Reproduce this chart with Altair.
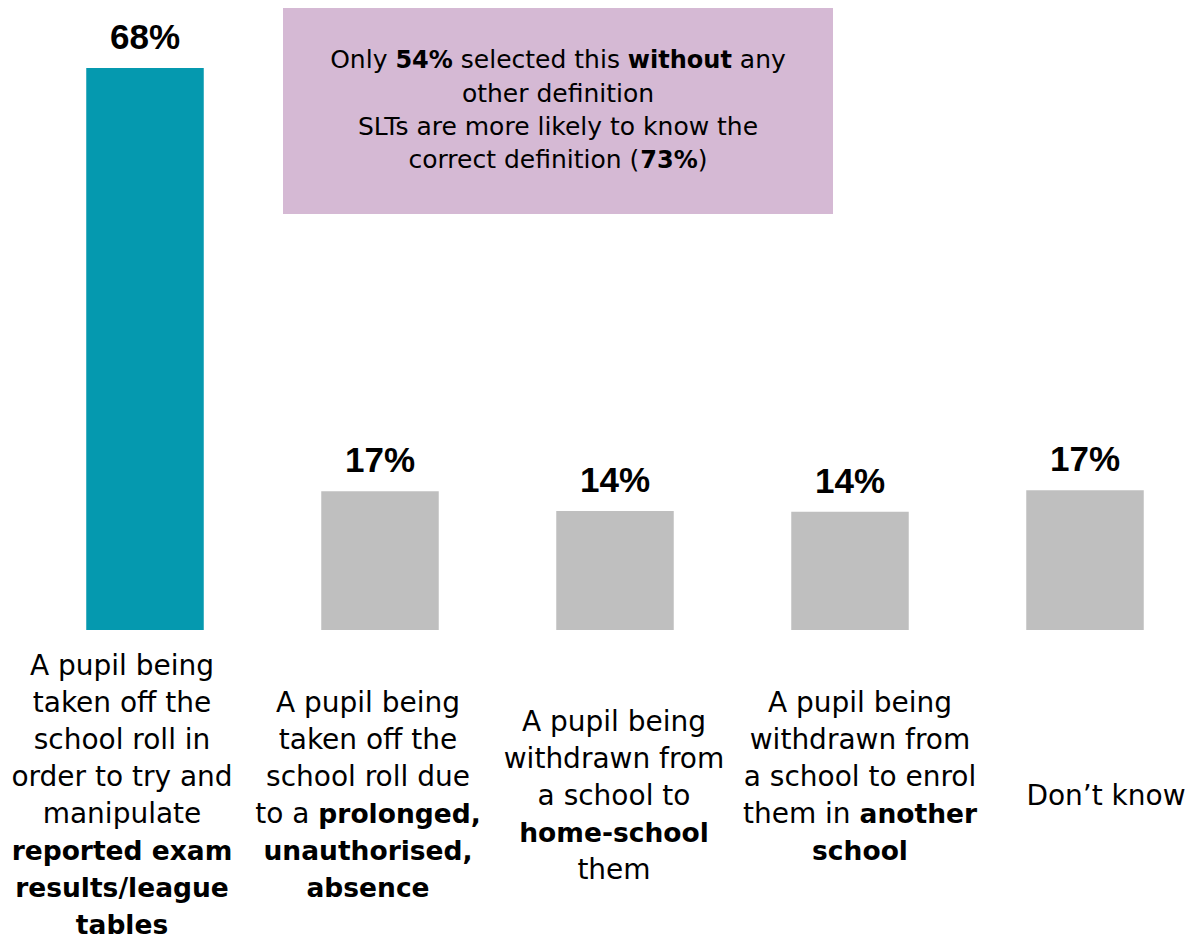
import altair as alt
import pandas as pd

# ---------------- data ----------------
categories = [
    "A pupil being taken off the school roll in order to try and manipulate reported exam results/league tables",
    "A pupil being taken off the school roll due to a prolonged, unauthorised, absence",
    "A pupil being withdrawn from a school to home-school them",
    "A pupil being withdrawn from a school to enrol them in another school",
    "Don’t know",
]
values = [68, 16.8, 14.4, 14.3, 16.9]
value_labels = ["68%", "17%", "14%", "14%", "17%"]

# wrapped category labels: each line is a list of (text, bold) segments
category_lines = [
    [[("A pupil being", False)], [("taken off the", False)], [("school roll in", False)],
     [("order to try and", False)], [("manipulate", False)], [("reported exam", True)],
     [("results/league", True)], [("tables", True)]],
    [[("A pupil being", False)], [("taken off the", False)], [("school roll due", False)],
     [("to a ", False), ("prolonged,", True)], [("unauthorised,", True)], [("absence", True)]],
    [[("A pupil being", False)], [("withdrawn from", False)], [("a school to", False)],
     [("home-school", True)], [("them", False)]],
    [[("A pupil being", False)], [("withdrawn from", False)], [("a school to enrol", False)],
     [("them in ", False), ("another", True)], [("school", True)], []],
    [[("Don’t know", False)]],
]

note_lines = [
    [("Only ", False), ("54%", True), (" selected this ", False), ("without", True), (" any", False)],
    [("other definition", False)],
    [("SLTs are more likely to know the", False)],
    [("correct definition (", False), ("73%", True), (")", False)],
]

# ---------------- style / layout ----------------
TEAL = "#0599AF"
GREY = "#BFBFBF"
NOTE_FILL = "#D5B9D4"
FONT = "DejaVu Sans"
NUM_FONT = "Liberation Sans"
CAT_SIZE = {False: 28, True: 26.5}
NOTE_SIZE = {False: 25, True: 24}
W, H = 1177, 937
LABEL_STEP = 246

# approximate advance widths (em) for DejaVu Sans regular / bold
REG = {' ': .318, 'A': .684, 'D': .770, 'O': .787, 'S': .635, 'L': .557, 'T': .611,
       'a': .613, 'b': .635, 'c': .550, 'd': .635, 'e': .615, 'f': .352, 'g': .635,
       'h': .634, 'i': .278, 'k': .579, 'l': .278, 'm': .974, 'n': .634, 'o': .612,
       'p': .635, 'r': .411, 's': .521, 't': .392, 'u': .634, 'v': .592, 'w': .818,
       'y': .592, ',': .318, '%': .950, '(': .390, ')': .390, '-': .361, '/': .337}
BOLD = {' ': .348, 'a': .675, 'b': .716, 'c': .593, 'd': .716, 'e': .678, 'f': .435,
        'g': .716, 'h': .712, 'i': .343, 'k': .665, 'l': .343, 'm': 1.042, 'n': .712,
        'o': .687, 'p': .716, 'r': .493, 's': .595, 't': .478, 'u': .712, 'w': .924,
        'y': .652, '%': 1.002, ',': .380, '-': .417, '/': .367, '(': .458, ')': .458}
for d in '0123456789':
    REG[d] = .636
    BOLD[d] = .696


def text_width(s, bold, sizes):
    table = BOLD if bold else REG
    return sum(table.get(ch, .62) for ch in s) * sizes[bold]


def layout_rows(lines, sizes, group):
    rows = []
    n = len(lines)
    for k, segs in enumerate(lines):
        u = k - (n - 1) / 2
        if not segs:
            continue
        if len(segs) == 1:
            rows.append(dict(group=group, u=u, text=segs[0][0].strip(), bold=segs[0][1],
                             align="center", xoff=0.0))
            continue
        widths = [text_width(t, b, sizes) for t, b in segs]
        cursor = -sum(widths) / 2
        for (t, b), w in zip(segs, widths):
            lead = len(t) - len(t.lstrip(' '))
            start = cursor + text_width(' ' * lead, b, sizes)
            rows.append(dict(group=group, u=u, text=t.strip(), bold=b, align="left", xoff=start))
            cursor += w
    return rows


cat_rows = []
for i, lines in enumerate(category_lines):
    cat_rows += layout_rows(lines, CAT_SIZE, i)
cat_df = pd.DataFrame(cat_rows)
cat_df["x"] = cat_df["group"] + cat_df["xoff"] / LABEL_STEP

note_df = pd.DataFrame(layout_rows(note_lines, NOTE_SIZE, 0))
note_df["x"] = note_df["xoff"]

bars_df = pd.DataFrame({"idx": range(len(categories)), "category": categories,
                        "value": values, "label": value_labels})

# ---------------- scales ----------------
bar_x = alt.Scale(domain=[0, 4], range=[137, 1077], zero=False, nice=False)
bar_y = alt.Scale(domain=[0, 68], range=[622, 60], zero=False, nice=False)
cat_x = alt.Scale(domain=[0, 4], range=[114, 1098], zero=False, nice=False)
cat_y = alt.Scale(domain=[-4, 4], range=[648.5, 944.5], zero=False, nice=False)
note_x = alt.Scale(domain=[-500, 500], range=[50, 1050], zero=False, nice=False)
note_y = alt.Scale(domain=[-1.5, 1.5], range=[60.3, 160.3], zero=False, nice=False)

bars = alt.Chart(bars_df).transform_calculate(
    x1="datum.idx - 0.25", x2="datum.idx + 0.25"
).mark_bar().encode(
    x=alt.X("x1:Q", scale=bar_x, axis=None),
    x2="x2:Q",
    y=alt.Y("value:Q", scale=bar_y, axis=None),
    y2=alt.datum(0),
    color=alt.condition(alt.datum.idx == 0, alt.value(TEAL), alt.value(GREY)),
)

value_text = alt.Chart(bars_df).mark_text(
    font=NUM_FONT, fontSize=35, fontWeight="bold", baseline="alphabetic",
    align="center", dy=-19, color="black"
).encode(
    x=alt.X("idx:Q", scale=bar_x, axis=None),
    y=alt.Y("value:Q", scale=bar_y, axis=None),
    text="label:N",
)

note_box = alt.Chart(pd.DataFrame({"a": [0]})).mark_rect(color=NOTE_FILL).encode(
    x=alt.value(275), x2=alt.value(825), y=alt.value(0), y2=alt.value(206)
)


def text_layers(df, xs, ys, sizes):
    out = []
    for bold in (False, True):
        for align in ("center", "left"):
            sub = df[(df["bold"] == bold) & (df["align"] == align)]
            if len(sub) == 0:
                continue
            out.append(
                alt.Chart(sub[["x", "u", "text"]]).mark_text(
                    font=FONT, fontSize=sizes[bold], fontWeight="bold" if bold else "normal",
                    align=align, baseline="alphabetic", color="black"
                ).encode(
                    x=alt.X("x:Q", scale=xs, axis=None),
                    y=alt.Y("u:Q", scale=ys, axis=None),
                    text="text:N",
                )
            )
    return out


layers = [bars, value_text, note_box] + text_layers(cat_df, cat_x, cat_y, CAT_SIZE) \
    + text_layers(note_df, note_x, note_y, NOTE_SIZE)

chart = alt.layer(*layers).resolve_scale(
    x="independent", y="independent", color="independent"
).properties(
    width=W, height=H, padding=0,
    autosize=alt.AutoSizeParams(type="none"),
).configure_view(stroke=None)

chart.save("out.html", embed_options={"renderer": "svg", "actions": False})
